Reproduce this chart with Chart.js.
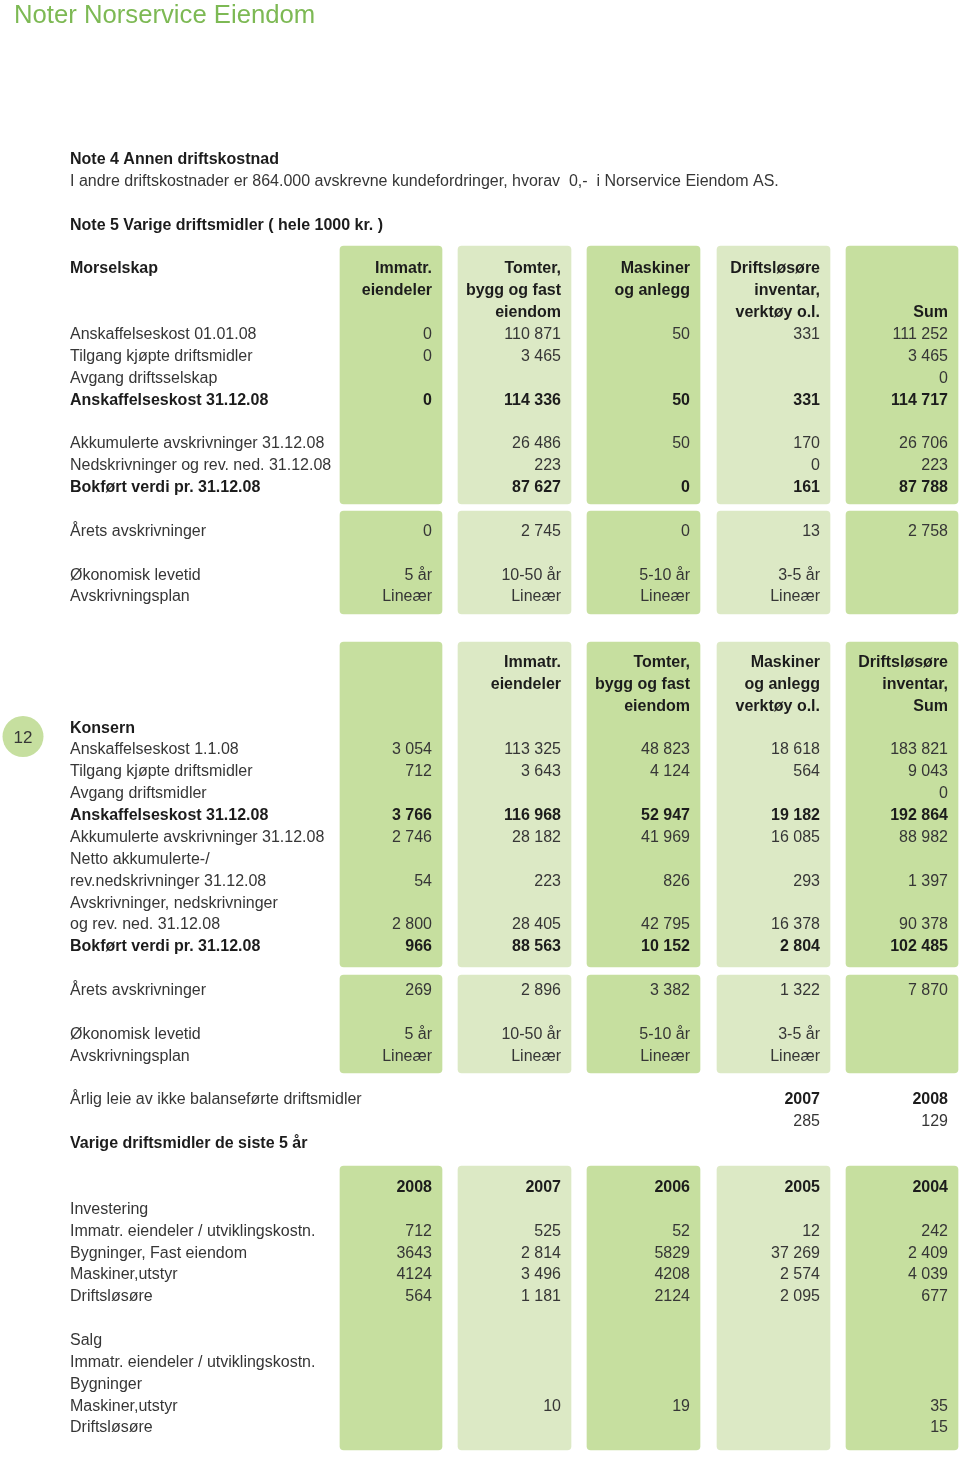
<!DOCTYPE html>
<html>
<head>
<meta charset="utf-8">
<title>Noter Norservice Eiendom</title>
<script src="https://cdn.jsdelivr.net/npm/chart.js@4"></script>
<style>
  html, body { margin: 0; padding: 0; background: #fff; }
  canvas { display: block; }
</style>
</head>
<body>
<canvas id="notes" width="960" height="1457"></canvas>
<script>
// ---- data ----
const pageTitle = "Noter Norservice Eiendom";
const pageNumber = "12";
const note4Title = "Note 4 Annen driftskostnad";
const note4Text = "I andre driftskostnader er 864.000 avskrevne kundefordringer, hvorav  0,-  i Norservice Eiendom AS.";
const note5Title = "Note 5 Varige driftsmidler ( hele 1000 kr. )";

// Morselskap
const morTitle = "Morselskap";
const morHeaders = [
  ["Immatr.", "eiendeler", ""],
  ["Tomter,", "bygg og fast", "eiendom"],
  ["Maskiner", "og anlegg", ""],
  ["Driftsløsøre", "inventar,", "verktøy o.l."],
  ["", "", "Sum"]
];
const morLabels = [
  "Anskaffelseskost 01.01.08",
  "Tilgang kjøpte driftsmidler",
  "Avgang driftsselskap",
  "Anskaffelseskost 31.12.08",
  "Akkumulerte avskrivninger 31.12.08",
  "Nedskrivninger og rev. ned. 31.12.08",
  "Bokført verdi pr. 31.12.08",
  "Årets avskrivninger",
  "Økonomisk levetid",
  "Avskrivningsplan"
];
const morValues = [
  ["0", "110 871", "50", "331", "111 252"],
  ["0", "3 465", "", "", "3 465"],
  ["", "", "", "", "0"],
  ["0", "114 336", "50", "331", "114 717"],
  ["", "26 486", "50", "170", "26 706"],
  ["", "223", "", "0", "223"],
  ["", "87 627", "0", "161", "87 788"],
  ["0", "2 745", "0", "13", "2 758"],
  ["5 år", "10-50 år", "5-10 år", "3-5 år", ""],
  ["Lineær", "Lineær", "Lineær", "Lineær", ""]
];

// Konsern
const konHeaders = [
  ["", "", ""],
  ["Immatr.", "eiendeler", ""],
  ["Tomter,", "bygg og fast", "eiendom"],
  ["Maskiner", "og anlegg", "verktøy o.l."],
  ["Driftsløsøre", "inventar,", "Sum"]
];
const konLabels = [
  "Konsern",
  "Anskaffelseskost 1.1.08",
  "Tilgang kjøpte driftsmidler",
  "Avgang driftsmidler",
  "Anskaffelseskost 31.12.08",
  "Akkumulerte avskrivninger 31.12.08",
  "Netto akkumulerte-/",
  "rev.nedskrivninger 31.12.08",
  "Avskrivninger, nedskrivninger",
  "og rev. ned. 31.12.08",
  "Bokført verdi pr. 31.12.08",
  "Årets avskrivninger",
  "Økonomisk levetid",
  "Avskrivningsplan"
];
const konValues = [
  ["", "", "", "", ""],
  ["3 054", "113 325", "48 823", "18 618", "183 821"],
  ["712", "3 643", "4 124", "564", "9 043"],
  ["", "", "", "", "0"],
  ["3 766", "116 968", "52 947", "19 182", "192 864"],
  ["2 746", "28 182", "41 969", "16 085", "88 982"],
  ["", "", "", "", ""],
  ["54", "223", "826", "293", "1 397"],
  ["", "", "", "", ""],
  ["2 800", "28 405", "42 795", "16 378", "90 378"],
  ["966", "88 563", "10 152", "2 804", "102 485"],
  ["269", "2 896", "3 382", "1 322", "7 870"],
  ["5 år", "10-50 år", "5-10 år", "3-5 år", ""],
  ["Lineær", "Lineær", "Lineær", "Lineær", ""]
];

// Leie
const leieLabel = "Årlig leie av ikke balanseførte driftsmidler";
const leieYears = ["2007", "2008"];
const leieValues = ["285", "129"];

// Siste 5 år
const femTitle = "Varige driftsmidler de siste 5 år";
const femYears = ["2008", "2007", "2006", "2005", "2004"];
const femLabels = [
  "Investering",
  "Immatr. eiendeler / utviklingskostn.",
  "Bygninger, Fast eiendom",
  "Maskiner,utstyr",
  "Driftsløsøre",
  "Salg",
  "Immatr. eiendeler / utviklingskostn.",
  "Bygninger",
  "Maskiner,utstyr",
  "Driftsløsøre"
];
const femValues = [
  ["", "", "", "", ""],
  ["712", "525", "52", "12", "242"],
  ["3643", "2 814", "5829", "37 269", "2 409"],
  ["4124", "3 496", "4208", "2 574", "4 039"],
  ["564", "1 181", "2124", "2 095", "677"],
  ["", "", "", "", ""],
  ["", "", "", "", ""],
  ["", "", "", "", ""],
  ["", "10", "19", "", "35"],
  ["", "", "", "", "15"]
];

// ---- layout ----
const firstLine = 158.5;
const linePitch = 21.87;
const labelX = 70;
const colLeft = [340, 458, 587, 717, 846];
const colRight = [442, 571, 700, 830, 958];
const textPad = 10;
const panelBlocks = [[246, 504], [511, 614], [642, 967], [975, 1073], [1166, 1450]];
const morHeaderLine = 5, morLines = [8, 9, 10, 11, 13, 14, 15, 17, 19, 20], morBold = [3, 6];
const konHeaderLine = 23, konLines = [26, 27, 28, 29, 30, 31, 32, 33, 34, 35, 36, 38, 40, 41], konBold = [0, 4, 10];
const leieLine = 43, femTitleLine = 45, femYearLine = 47;
const femLines = [48, 49, 50, 51, 52, 54, 55, 56, 57, 58];

const darkGreen = "#c6df9f";
const lightGreen = "#dce9c5";
const titleGreen = "#7db954";
const textColor = "#363636";
const boldColor = "#1c1c1c";
const regFont = "16px 'Liberation Sans', Arial, sans-serif";
const boldFont = "bold 16px 'Liberation Sans', Arial, sans-serif";

const lineY = k => firstLine + k * linePitch;

const panelDataset = c => ({
  label: "col" + c,
  data: panelBlocks.map(([top, bottom]) => ({ x: (colLeft[c] + colRight[c]) / 2, y: [top, bottom] })),
  backgroundColor: c % 2 === 0 ? darkGreen : lightGreen,
  barThickness: colRight[c] - colLeft[c],
  borderRadius: 4,
  borderSkipped: false,
  grouped: false
});

const tableText = {
  id: "tableText",
  afterDatasetsDraw(chart) {
    const { ctx, scales: { x, y } } = chart;
    const put = (str, px, py, align, bold) => {
      if (!str) return;
      ctx.font = bold ? boldFont : regFont;
      ctx.fillStyle = bold ? boldColor : textColor;
      ctx.textAlign = align;
      ctx.textBaseline = "alphabetic";
      ctx.fillText(str, x.getPixelForValue(px), y.getPixelForValue(py) + 5.5);
    };
    const left = (str, k, bold) => put(str, labelX, lineY(k), "left", bold);
    const cell = (str, c, k, bold) => put(str, colRight[c] - textPad, lineY(k), "right", bold);

    ctx.save();
    // title
    ctx.font = "25.7px 'Liberation Sans', Arial, sans-serif";
    ctx.fillStyle = titleGreen;
    ctx.textAlign = "left";
    ctx.textBaseline = "alphabetic";
    ctx.fillText(pageTitle, x.getPixelForValue(14), y.getPixelForValue(23));

    left(note4Title, 0, true);
    left(note4Text, 1, false);
    left(note5Title, 3, true);

    // Morselskap
    left(morTitle, morHeaderLine, true);
    morHeaders.forEach((h, c) => h.forEach((s, r) => cell(s, c, morHeaderLine + r, true)));
    morLabels.forEach((lab, i) => {
      const bold = morBold.includes(i);
      left(lab, morLines[i], bold);
      morValues[i].forEach((v, c) => cell(v, c, morLines[i], bold));
    });

    // Konsern
    konHeaders.forEach((h, c) => h.forEach((s, r) => cell(s, c, konHeaderLine + r, true)));
    konLabels.forEach((lab, i) => {
      const bold = konBold.includes(i);
      left(lab, konLines[i], bold);
      konValues[i].forEach((v, c) => cell(v, c, konLines[i], bold));
    });

    // page number
    ctx.beginPath();
    ctx.arc(x.getPixelForValue(23), y.getPixelForValue(736.5), 20.5, 0, Math.PI * 2);
    ctx.fillStyle = darkGreen;
    ctx.fill();
    ctx.font = "17px 'Liberation Sans', Arial, sans-serif";
    ctx.fillStyle = textColor;
    ctx.textAlign = "center";
    ctx.fillText(pageNumber, x.getPixelForValue(23), y.getPixelForValue(736.5) + 6);

    // leie
    left(leieLabel, leieLine, false);
    leieYears.forEach((yr, i) => cell(yr, 3 + i, leieLine, true));
    leieValues.forEach((v, i) => cell(v, 3 + i, leieLine + 1, false));

    // siste 5 år
    left(femTitle, femTitleLine, true);
    femYears.forEach((yr, c) => cell(yr, c, femYearLine, true));
    femLabels.forEach((lab, i) => {
      left(lab, femLines[i], false);
      femValues[i].forEach((v, c) => cell(v, c, femLines[i], false));
    });
    ctx.restore();
  }
};

new Chart(document.getElementById("notes"), {
  type: "bar",
  data: { datasets: [0, 1, 2, 3, 4].map(panelDataset) },
  options: {
    responsive: false,
    maintainAspectRatio: false,
    devicePixelRatio: 1,
    animation: false,
    events: [],
    layout: { padding: 0 },
    plugins: { legend: { display: false }, tooltip: { enabled: false }, title: { display: false } },
    scales: {
      x: { type: "linear", min: 0, max: 960, offset: false, display: false },
      y: { type: "linear", min: 0, max: 1457, reverse: true, display: false }
    }
  },
  plugins: [tableText]
});
</script>
</body>
</html>
